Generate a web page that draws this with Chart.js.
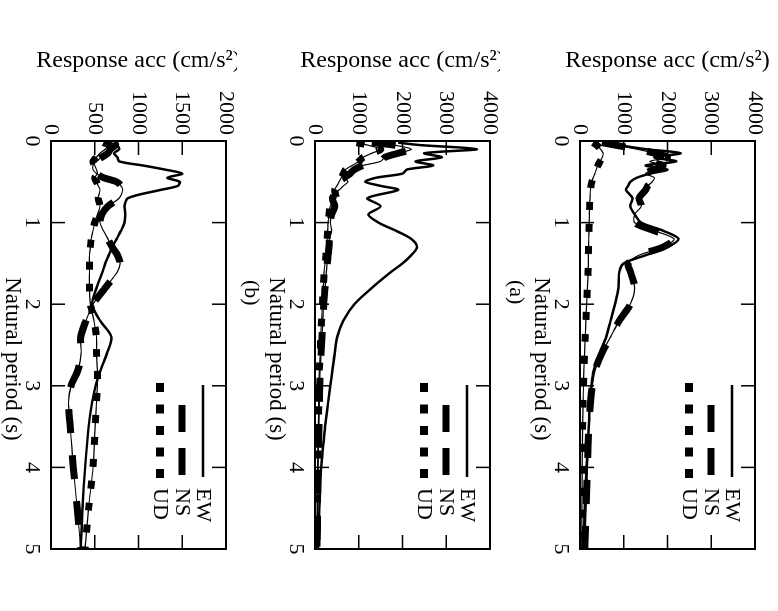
<!DOCTYPE html>
<html>
<head>
<meta charset="utf-8">
<script src="https://cdn.jsdelivr.net/npm/chart.js@4.4.0/dist/chart.umd.min.js"></script>
<style>
  body { margin:0; background:#fff; width:778px; height:611px; overflow:hidden; position:relative; }
  canvas { position:absolute; left:0; top:0; background:#fff; transform-origin:0 0; }
</style>
</head>
<body>
<canvas id="panelC" width="611" height="276"></canvas>
<canvas id="panelB" width="611" height="276"></canvas>
<canvas id="panelA" width="611" height="278"></canvas>
<script>
// periodos naturales (s) comunes a los tres espectros
const periods = [0.02,0.05,0.1,0.15,0.2,0.25,0.3,0.35,0.4,0.45,0.5,0.55,0.6,0.7,0.8,0.9,1.0,1.1,1.2,1.3,1.4,1.5,1.6,1.8,2.0,2.2,2.4,2.6,2.8,3.0,3.2,3.5,4.0,4.5,5.0]
const seriesNames = ['EW','NS','UD']
const periodTicks = [0,1,2,3,4,5]
const accTicks4000 = [0,1000,2000,3000,4000]
const accTicks2000 = [0,500,1000,1500,2000]

// panel (a)
const ewA = [700,900,1500,2300,1700,2200,1500,2000,1600,1300,1150,1100,1050,1200,1150,1250,1400,1900,2250,2000,1500,1000,900,880,800,700,600,450,320,260,230,200,150,110,90]
const nsA = [500,800,1300,1700,2000,1600,1900,1700,1500,1700,1650,1550,1500,1350,1400,1250,1250,1700,2150,1900,1350,1100,1150,1250,1150,900,700,500,350,280,240,200,170,140,110]
const udA = [300,380,470,530,510,460,410,370,340,300,270,250,240,230,220,215,210,205,200,195,190,190,185,170,150,135,120,105,90,80,70,60,50,45,40]

// panel (b)
const ewB = [1900,2400,3700,2500,2900,2300,2700,2100,2000,1400,1150,1500,1900,1200,1500,1220,1450,1850,2200,2330,2200,2000,1750,1300,900,650,510,450,400,350,300,230,140,100,70]
const nsB = [1300,1800,2200,1900,1600,1500,1100,900,800,700,750,650,550,400,450,380,350,380,330,320,300,280,260,230,200,180,160,140,120,110,100,90,70,60,50]
const udB = [950,1200,1500,1300,1100,1000,850,700,650,600,550,500,450,480,350,320,300,290,280,260,250,230,210,190,170,150,130,120,100,90,85,75,60,50,45]

// panel (c)
const ewC = [650,750,780,720,760,780,1050,1300,1500,1330,1470,1450,1250,880,840,850,840,800,750,700,660,620,590,520,470,560,690,640,570,510,470,430,390,360,340]
const nsC = [720,740,680,650,580,520,480,480,520,600,750,800,820,780,650,580,560,600,650,700,760,790,760,620,480,400,340,345,310,230,200,220,255,300,340]
const udC = [600,650,620,560,520,480,500,520,530,500,520,540,560,540,560,530,500,480,460,450,440,440,440,440,450,490,520,520,530,530,520,505,480,430,390]

const FONT = "'Liberation Serif', 'Times New Roman', serif"

// caja, marcas hacia adentro, titulos, leyenda y etiqueta del panel
const panelDeco = {
  id: 'panelDeco',
  afterDraw(chart) {
    const {ctx, chartArea: a, scales: {x, y}} = chart
    const etiqueta = chart.options.plugins.panelDeco.label
    const bottom = a.bottom + 78
    ctx.save()
    ctx.strokeStyle = '#000'
    ctx.fillStyle = '#000'
    ctx.setLineDash([])
    ctx.lineWidth = 2
    ctx.strokeRect(a.left, a.top, a.right - a.left, a.bottom - a.top)

    ctx.lineWidth = 1.5
    ctx.beginPath()
    x.ticks.forEach(t => {
      const px = x.getPixelForValue(t.value)
      ctx.moveTo(px, a.top); ctx.lineTo(px, a.top + 14)
      ctx.moveTo(px, a.bottom); ctx.lineTo(px, a.bottom - 14)
    })
    y.ticks.forEach(t => {
      const py = y.getPixelForValue(t.value)
      ctx.moveTo(a.left, py); ctx.lineTo(a.left + 14, py)
      ctx.moveTo(a.right, py); ctx.lineTo(a.right - 14, py)
    })
    ctx.stroke()

    // titulo eje de aceleracion
    ctx.save()
    ctx.translate(61, (a.top + a.bottom) / 2)
    ctx.rotate(-Math.PI / 2)
    ctx.font = '24px ' + FONT
    ctx.textAlign = 'center'
    ctx.textBaseline = 'middle'
    ctx.fillText('Response acc (cm/s²)', 0, 0)
    ctx.restore()

    // titulo eje de periodo
    ctx.font = '23px ' + FONT
    ctx.textAlign = 'center'
    ctx.textBaseline = 'middle'
    ctx.fillText('Natural period (s)', a.left + 218, bottom - 39)

    ctx.font = '22px ' + FONT
    ctx.textAlign = 'left'
    ctx.fillText(etiqueta, a.left + 139, bottom - 14)

    // leyenda
    const r = a.right
    const rows = [a.top + 23, a.top + 44, a.top + 66]
    ctx.lineCap = 'butt'
    ctx.lineWidth = 2.5
    ctx.beginPath(); ctx.moveTo(r - 164, rows[0]); ctx.lineTo(r - 72, rows[0]); ctx.stroke()
    ctx.lineWidth = 7
    ctx.setLineDash([27, 16])
    ctx.beginPath(); ctx.moveTo(r - 144, rows[1]); ctx.lineTo(r - 74, rows[1]); ctx.stroke()
    ctx.lineWidth = 8
    ctx.setLineDash([9, 12.5])
    ctx.beginPath(); ctx.moveTo(r - 166, rows[2]); ctx.lineTo(r - 71, rows[2]); ctx.stroke()
    ctx.setLineDash([])
    seriesNames.forEach((n, i) => ctx.fillText(n, r - 61, rows[i]))
    ctx.restore()
  }
}

function dibujaPanel(id, x0, ew, ns, ud, accTicks, etiqueta) {
  const canvas = document.getElementById(id)
  const alto = canvas.height
  canvas.style.transform = `translate(${x0}px, 0px) rotate(90deg)`
  const pts = arr => periods.map((p, i) => ({x: p, y: arr[i]}))
  const linea = (label, arr, width, dash) => ({
    label: label, data: pts(arr), borderColor: '#000', borderWidth: width,
    borderDash: dash, fill: false
  })
  new Chart(canvas, {
    type: 'line',
    data: {
      datasets: [
        linea(seriesNames[0], ew, 2.5, []),
        linea(seriesNames[1], ns, 1.2, []),
        linea(seriesNames[1], ns, 7, [24, 22]),
        linea(seriesNames[2], ud, 1.2, []),
        linea(seriesNames[2], ud, 7, [8, 14])
      ]
    },
    options: {
      responsive: false,
      animation: false,
      devicePixelRatio: 1,
      events: [],
      layout: {autoPadding: false, padding: {left: 0, top: 23, right: 62, bottom: 0}},
      elements: {point: {radius: 0}, line: {tension: 0.3, borderCapStyle: 'butt'}},
      scales: {
        x: {
          type: 'linear', min: 0, max: 5, position: 'bottom',
          grid: {display: false, drawTicks: false}, border: {display: false},
          ticks: {font: {family: FONT, size: 22}, color: '#000', padding: 6, maxRotation: 0, autoSkip: false,
                  callback: v => String(v)},
          afterBuildTicks: s => { s.ticks = periodTicks.map(v => ({value: v})) },
          afterFit: s => { s.height = alto - 198 }
        },
        y: {
          type: 'linear', min: 0, max: accTicks[accTicks.length - 1], position: 'left',
          grid: {display: false, drawTicks: false}, border: {display: false},
          ticks: {font: {family: FONT, size: 22}, color: '#000', padding: 6, autoSkip: false,
                  callback: v => String(v)},
          afterBuildTicks: s => { s.ticks = accTicks.map(v => ({value: v})) },
          afterFit: s => { s.width = 141 }
        }
      },
      plugins: {legend: {display: false}, tooltip: {enabled: false}, panelDeco: {label: etiqueta}}
    },
    plugins: [panelDeco]
  })
}

dibujaPanel('panelC', 249, ewC, nsC, udC, accTicks2000, '(c)')
dibujaPanel('panelB', 513, ewB, nsB, udB, accTicks4000, '(b)')
dibujaPanel('panelA', 778, ewA, nsA, udA, accTicks4000, '(a)')
</script>
</body>
</html>
